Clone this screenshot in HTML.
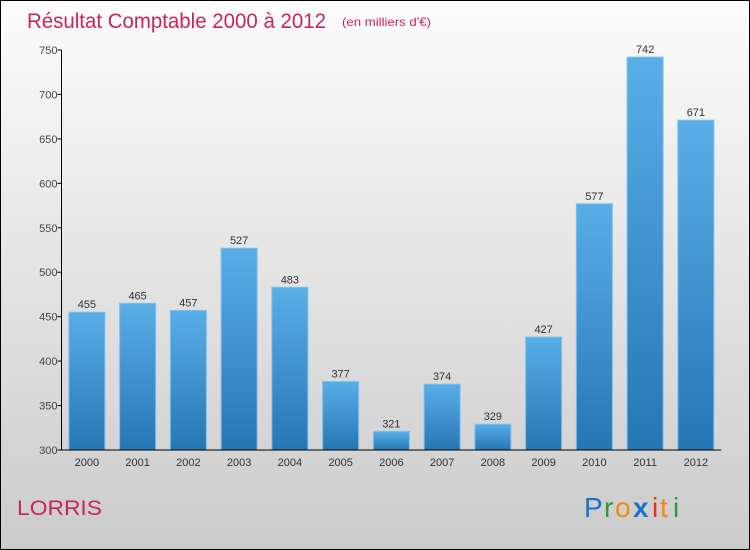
<!DOCTYPE html>
<html><head><meta charset="utf-8"><style>
body{margin:0;}
#c{width:748px;height:548px;border:1px solid #000;position:relative;background:linear-gradient(#fcfcfc,#cbcbcb);font-family:"DejaVu Sans","Liberation Sans",sans-serif;overflow:hidden}
</style></head><body>
<div id="c">
<svg width="748" height="548" id="svg">
<defs><linearGradient id="bg" x1="0" y1="0" x2="0" y2="1"><stop offset="0" stop-color="#5aaee8"/><stop offset="1" stop-color="#2577b3"/></linearGradient></defs>
<text x="26" y="27" font-size="21" fill="#c8265a" textLength="299" lengthAdjust="spacingAndGlyphs" font-family="Liberation Sans, sans-serif">Résultat Comptable 2000 à 2012</text>
<text x="341" y="25" font-size="12" fill="#c8265a" textLength="89" lengthAdjust="spacingAndGlyphs" font-family="Liberation Sans, sans-serif">(en milliers d'€)</text>
<text x="16" y="514" font-size="21" fill="#c8265a" textLength="85" lengthAdjust="spacingAndGlyphs" font-family="Liberation Sans, sans-serif">LORRIS</text>
<g font-size="28" font-family="Liberation Sans, sans-serif">
<text x="583" y="516" fill="#1a73c8">P</text><text x="603" y="516" fill="#2a9a3a">r</text><text x="614" y="516" fill="#f08a10">o</text><text x="632" y="516" fill="#1a73c8" font-weight="bold">x</text><text x="651" y="516" fill="#e8301a">i</text><text x="659" y="516" fill="#f08a10">t</text><text x="672" y="516" fill="#2a9a3a">i</text>
</g>
<g id="plot"></g>
</svg>
</div>
<script>
const years=["2000","2001","2002","2003","2004","2005","2006","2007","2008","2009","2010","2011","2012"];
const values=[455,465,457,527,483,377,321,374,329,427,577,742,671];
const ticks=[300,350,400,450,500,550,600,650,700,750];
const NS="http://www.w3.org/2000/svg";
const g=document.getElementById('plot');
const x0=60.5,band=50.75,bw=36,yMin=300,yMax=750,yTop=49,yBot=449;
const y=v=>yBot-(v-yMin)/(yMax-yMin)*(yBot-yTop);
const xc=i=>x0+band*(i+0.5);
function mk(t,a){const e=document.createElementNS(NS,t);for(const k in a)e.setAttribute(k,a[k]);g.appendChild(e);return e;}
values.forEach((v,i)=>{
 const r=mk('rect',{x:xc(i)-bw/2,y:y(v),width:bw,height:yBot-y(v),fill:'url(#bg)',stroke:'#7cc0ee','stroke-width':1});
 
 
 const t=mk('text',{x:xc(i),y:y(v)-4,'text-anchor':'middle','font-size':11,fill:'#333','font-family':'Liberation Sans, sans-serif'});
 t.textContent=v;
 
 
 const xl=mk('text',{x:xc(i),y:465,'text-anchor':'middle','font-size':11,fill:'#333','font-family':'Liberation Sans, sans-serif'});
 xl.textContent=years[i];
 
 
});
ticks.forEach(v=>{
 mk('line',{x1:x0-4,x2:x0,y1:y(v),y2:y(v),stroke:'#000'});
 const t=mk('text',{x:x0-4,y:y(v)+4,'text-anchor':'end','font-size':11,fill:'#444','font-family':'Liberation Sans, sans-serif'});
 t.textContent=v;
 
 
});
const ya=mk('line',{x1:x0,x2:x0,y1:yTop,y2:yBot,stroke:'#000'});


const xa=mk('line',{x1:x0,x2:x0+band*13,y1:yBot,y2:yBot,stroke:'#000'});


</script>
</body></html>
